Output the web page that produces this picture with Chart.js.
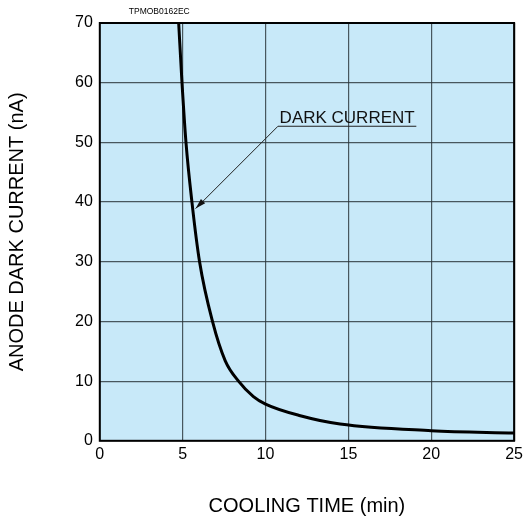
<!DOCTYPE html>
<html><head><meta charset="utf-8">
<script src="https://cdn.jsdelivr.net/npm/chart.js@4"></script>
<style>html,body{margin:0;padding:0;background:#fff}#wrap{width:527px;height:518px}</style>
</head><body><div id="wrap"><canvas id="c"></canvas></div>
<script>
const coolingTime = [4.76, 4.96, 5.2, 5.56, 6.02, 6.8, 7.57, 8.37, 9.27, 10, 12.1, 14.5, 20, 25];
const darkCurrent = [70, 60, 50, 40, 30, 20, 13.4, 10, 7.4, 6.15, 4.2, 2.8, 1.7, 1.3];
const xTicks = [0, 5, 10, 15, 20, 25];
const yTicks = [0, 10, 20, 30, 40, 50, 60, 70];
const labelText = 'DARK CURRENT';
const labelPos = {x: 10.75, y: 52.7, xEnd: 19.1};
const arrowTip = {x: 5.78, y: 38.9};
const codeText = 'TPMOB0162EC';

const font = "'Liberation Sans', Arial, sans-serif";

const bgPlugin = {
  id: 'bg',
  beforeDraw(chart) {
    const {ctx, chartArea: a} = chart;
    ctx.save();
    ctx.fillStyle = '#c8e9f9';
    ctx.fillRect(a.left, a.top, a.right - a.left, a.bottom - a.top);
    ctx.restore();
  },
  afterDraw(chart) {
    const {ctx, chartArea: a, scales: {x, y}} = chart;
    ctx.save();
    ctx.strokeStyle = '#000';
    ctx.lineWidth = 2;
    ctx.strokeRect(a.left, a.top, a.right - a.left, a.bottom - a.top);
    // code label
    ctx.fillStyle = '#000';
    ctx.font = '8.5px ' + font;
    ctx.textAlign = 'left';
    ctx.textBaseline = 'bottom';
    ctx.fillText(codeText, a.left + 29, a.top - 7);
    // annotation
    const x0 = x.getPixelForValue(labelPos.x), y0 = y.getPixelForValue(labelPos.y);
    const x1 = x.getPixelForValue(labelPos.xEnd);
    const tx = x.getPixelForValue(arrowTip.x), ty = y.getPixelForValue(arrowTip.y);
    ctx.font = '17px ' + font;
    ctx.textAlign = 'center';
    ctx.textBaseline = 'alphabetic';
    ctx.fillStyle = '#111';
    ctx.fillText(labelText, (x0 + x1) / 2, y0 - 3);
    ctx.lineWidth = 1;
    ctx.strokeStyle = '#222';
    ctx.beginPath();
    ctx.moveTo(x1, y0); ctx.lineTo(x0, y0); ctx.lineTo(tx, ty);
    ctx.stroke();
    const ang = Math.atan2(ty - y0, tx - x0);
    const L = 11, W = 0.28;
    ctx.beginPath();
    ctx.moveTo(tx, ty);
    ctx.lineTo(tx - L * Math.cos(ang - W), ty - L * Math.sin(ang - W));
    ctx.lineTo(tx - L * Math.cos(ang + W), ty - L * Math.sin(ang + W));
    ctx.closePath();
    ctx.fillStyle = '#111';
    ctx.fill();
    ctx.restore();
  }
};

new Chart(document.getElementById('c'), {
  type: 'scatter',
  data: {
    datasets: [{
      data: coolingTime.map((t, i) => ({x: t, y: darkCurrent[i]})),
      showLine: true,
      borderColor: '#000',
      borderWidth: 3,
      pointRadius: 0,
      cubicInterpolationMode: 'monotone',
      clip: true
    }]
  },
  options: {
    responsive: true,
    maintainAspectRatio: false,
    animation: false,
    layout: {padding: {left: 5, right: 12, top: 23, bottom: 0}},
    plugins: {legend: {display: false}, tooltip: {enabled: false}},
    scales: {
      x: {
        type: 'linear', min: 0, max: 25,
        afterBuildTicks: s => { s.ticks = xTicks.map(v => ({value: v})); },
        grid: {color: 'rgba(40,50,55,0.8)', lineWidth: 1.2, drawTicks: false},
        border: {display: false},
        ticks: {color: '#000', font: {family: font, size: 16}, padding: 4},
        title: {display: true, text: 'COOLING TIME (min)', color: '#000', font: {family: font, size: 20}, padding: {top: 26, bottom: 0}}
      },
      y: {
        type: 'linear', min: 0, max: 70,
        afterBuildTicks: s => { s.ticks = yTicks.map(v => ({value: v})); },
        grid: {color: 'rgba(40,50,55,0.8)', lineWidth: 1.2, drawTicks: false},
        border: {display: false},
        ticks: {color: '#000', font: {family: font, size: 16}, padding: 7},
        title: {display: true, text: 'ANODE DARK CURRENT (nA)', color: '#000', font: {family: font, size: 20}, padding: {top: 0, bottom: 39}}
      }
    }
  },
  plugins: [bgPlugin]
});
</script></body></html>
